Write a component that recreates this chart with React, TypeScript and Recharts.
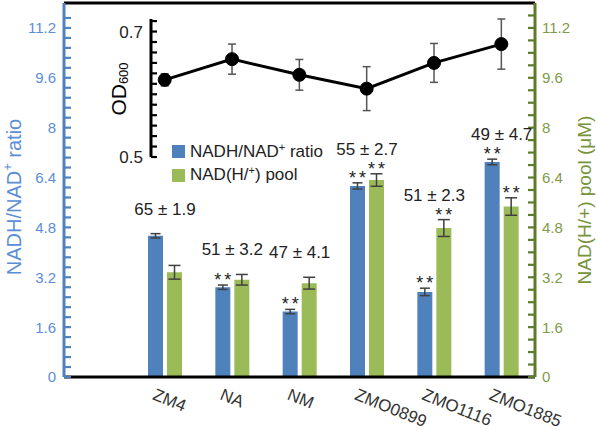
import React from "react";
import {
  ComposedChart,
  LineChart,
  Bar,
  Line,
  XAxis,
  YAxis,
  ErrorBar,
  LabelList,
  Legend,
  ReferenceLine,
} from "recharts";

// strains on the x axis
const strains = ["ZM4", "NA", "NM", "ZMO0899", "ZMO1116", "ZMO1885"];
// NADH/NAD+ ratio (left axis)
const ratio = [4.53, 2.88, 2.1, 6.13, 2.73, 6.9];
const ratioErr = [0.07, 0.07, 0.07, 0.1, 0.12, 0.09];
// NAD(H/+) pool, µM (right axis)
const pool = [3.36, 3.12, 3.01, 6.32, 4.78, 5.47];
const poolErr = [0.22, 0.17, 0.19, 0.2, 0.27, 0.28];
// ** markers
const ratioSig = [false, true, true, true, true, true];
const poolSig = [false, false, false, true, true, true];
// text above each group
const growth = ["65 ± 1.9", "51 ± 3.2", "47 ± 4.1", "55 ± 2.7", "51 ± 2.3", "49 ± 4.7"];
// inset OD600
const od600 = [0.623, 0.656, 0.631, 0.609, 0.65, 0.68];
const od600Err = [0.0096, 0.024, 0.0245, 0.035, 0.031, 0.04];

const majorTicks = [0, 1.6, 3.2, 4.8, 6.4, 8, 9.6, 11.2];
const majorLabels = ["0", "1.6", "3.2", "4.8", "6.4", "8", "9.6", "11.2"];
const odMajorTicks = [0.5, 0.7];
const odMajorLabels = ["0.5", "0.7"];

const leftTicks = Array.from({ length: 37 }, (_, k) => Math.round(k * 32) / 100);
const rightTicks = Array.from({ length: 30 }, (_, k) => Math.round(k * 40) / 100);
const odTicks = Array.from({ length: 14 }, (_, k) => 0.5 + (k * 0.2) / 12);

const BLUE = "#4F81BD";
const GREEN = "#9BBB59";
const OLIVE = "#5E7B2A";
const FONT = "'Liberation Sans', Arial, sans-serif";

const data = strains.map((name, i) => ({
  name,
  idx: i,
  ratio: ratio[i],
  ratioErr: ratioErr[i],
  pool: pool[i],
  poolErr: poolErr[i],
  od: od600[i],
  odErr: od600Err[i],
}));

// label + inward tick mark (tickSize is 0, so x + margin is the axis line)
function YTick(props: any) {
  const { x, y, payload, side, majors, labels, color, fontSize, tickColor, margin, len } = props;
  const i = majors.findIndex((m: number) => Math.abs(m - payload.value) < 1e-6);
  const dir = side === "left" ? 1 : -1;
  const axisX = x + dir * margin;
  return (
    <g>
      <line x1={axisX} x2={axisX + dir * len} y1={y} y2={y} stroke={tickColor} strokeWidth={2.2} />
      {i >= 0 && (
        <text
          x={x}
          y={y}
          dy="0.36em"
          textAnchor={side === "left" ? "end" : "start"}
          fill={color}
          fontSize={fontSize}
        >
          {labels[i]}
        </text>
      )}
    </g>
  );
}

function XTick(props: any) {
  const { x, y, payload } = props;
  const tx = x - 13;
  const ty = y + 12;
  return (
    <text x={tx} y={ty} transform={`rotate(22 ${tx} ${ty})`} fontSize={17} fill="#333">
      {payload.value}
    </text>
  );
}

const boxOf = (props: any) => props.viewBox ?? props;

function renderRatioStars(props: any) {
  const { x, y, width, height } = boxOf(props);
  const i = strains.indexOf(props.value);
  if (i < 0 || !ratioSig[i] || !height) return null;
  const ppu = height / ratio[i];
  const cap = y - ratioErr[i] * ppu;
  return (
    <text x={x + width / 2 + 1.5} y={cap + 1} textAnchor="middle" fontSize={18} letterSpacing={3} fill="#222">
      **
    </text>
  );
}

function renderPoolLabels(props: any) {
  const { x, y, width, height } = boxOf(props);
  const i = strains.indexOf(props.value);
  if (i < 0 || !height) return null;
  const ppu = height / pool[i];
  const base = y + height;
  const greenCap = base - (pool[i] + poolErr[i]) * ppu;
  const blueCap = base - (ratio[i] + ratioErr[i]) * ppu;
  const top = Math.min(greenCap, blueCap);
  return (
    <g>
      {poolSig[i] && (
        <text x={x + width / 2 + 1.5} y={greenCap + 1} textAnchor="middle" fontSize={18} letterSpacing={3} fill="#222">
          **
        </text>
      )}
      <text x={x - 2} y={top - 19} textAnchor="middle" fontSize={17} fill="#222">
        {growth[i]}
      </text>
    </g>
  );
}

function LeftLabel() {
  const cx = 14;
  const cy = 197;
  return (
    <text x={cx} y={cy} transform={`rotate(-90 ${cx} ${cy})`} textAnchor="middle" dominantBaseline="central" fill="#5B8ED6" fontSize={20}>
      NADH/NAD<tspan dy={-7} fontSize={13}>+</tspan>
      <tspan dy={7}> ratio</tspan>
    </text>
  );
}

function RightLabel() {
  const cx = 584;
  const cy = 200;
  return (
    <text x={cx} y={cy} transform={`rotate(-90 ${cx} ${cy})`} textAnchor="middle" dominantBaseline="central" fill="#77933C" fontSize={19}>
      NAD(H/+) pool (μM)
    </text>
  );
}

function OdLabel() {
  const cx = 118;
  const cy = 89;
  return (
    <text x={cx} y={cy} transform={`rotate(-90 ${cx} ${cy})`} textAnchor="middle" dominantBaseline="central" fill="#000" fontSize={21}>
      OD<tspan dy={5} fontSize={13}>600</tspan>
    </text>
  );
}

const legendOrder = ["ratio", "pool"];
const legendNames: Record<string, React.ReactNode> = {
  ratio: (
    <>
      NADH/NAD<span style={{ fontSize: 11, position: "relative", top: -6 }}>+</span> ratio
    </>
  ),
  pool: (
    <>
      NAD(H/<span style={{ fontSize: 11, position: "relative", top: -6 }}>+</span>) pool
    </>
  ),
};

function LegendBox(props: any) {
  const items = [...(props.payload ?? [])].sort(
    (a: any, b: any) => legendOrder.indexOf(a.dataKey) - legendOrder.indexOf(b.dataKey)
  );
  return (
    <div style={{ fontSize: 17, color: "#222", fontFamily: FONT }}>
      {items.map((it: any) => (
        <div key={it.dataKey} style={{ display: "flex", alignItems: "center", height: 23.5 }}>
          <span style={{ width: 13, height: 13, background: it.color, marginRight: 5, display: "inline-block" }} />
          <span>{legendNames[it.dataKey] ?? it.value}</span>
        </div>
      ))}
    </div>
  );
}

export default function App() {
  return (
    <div style={{ position: "absolute", left: 0, top: 0, width: 598, height: 430, fontFamily: FONT, background: "#fff" }}>
      <ComposedChart width={598} height={430} data={data} margin={{ top: 3, right: 0, bottom: 0, left: 0 }} barGap={4}>
        <XAxis
          dataKey="name"
          padding={{ left: 67, right: 0 }}
          height={53}
          axisLine={{ stroke: "#000", strokeWidth: 3 }}
          tickLine={false}
          tickSize={0}
          tickMargin={10}
          interval={0}
          tick={(p: any) => <XTick {...p} />}
        />
        <YAxis
          yAxisId="left"
          domain={[0, 12]}
          ticks={leftTicks}
          interval={0}
          width={64}
          axisLine={{ stroke: BLUE, strokeWidth: 3 }}
          tickLine={false}
          tickSize={0}
          tickMargin={8}
          tick={(p: any) => (
            <YTick {...p} side="left" majors={majorTicks} labels={majorLabels} color="#5B8ED6" fontSize={15} tickColor={BLUE} margin={8} len={7} />
          )}
          label={{ content: () => <LeftLabel /> }}
        />
        <YAxis
          yAxisId="right"
          orientation="right"
          domain={[0, 12]}
          ticks={rightTicks}
          interval={0}
          width={63}
          axisLine={{ stroke: OLIVE, strokeWidth: 3 }}
          tickLine={false}
          tickSize={0}
          tickMargin={7}
          tick={(p: any) => (
            <YTick {...p} side="right" majors={majorTicks} labels={majorLabels} color="#7F9A48" fontSize={15} tickColor={OLIVE} margin={7} len={7} />
          )}
          label={{ content: () => <RightLabel /> }}
        />
        <ReferenceLine yAxisId="left" y={12} stroke="#000" strokeWidth={3} />
        <Legend
          layout="vertical"
          align="center"
          verticalAlign="middle"
          wrapperStyle={{ left: 172, top: 140, width: "auto" }}
          content={(p: any) => <LegendBox {...p} />}
        />
        <Bar yAxisId="left" dataKey="ratio" name="NADH/NAD+ ratio" fill={BLUE} barSize={15} isAnimationActive={false}>
          <ErrorBar dataKey="ratioErr" width={5} stroke="#404040" strokeWidth={1.5} direction="y" />
          <LabelList dataKey="name" content={renderRatioStars} />
        </Bar>
        <Bar yAxisId="right" dataKey="pool" name="NAD(H/+) pool" fill={GREEN} barSize={15} isAnimationActive={false}>
          <ErrorBar dataKey="poolErr" width={6} stroke="#404040" strokeWidth={1.5} direction="y" />
          <LabelList dataKey="name" content={renderPoolLabels} />
        </Bar>
      </ComposedChart>

      <div style={{ position: "absolute", left: 0, top: 0, pointerEvents: "none" }}>
        <LineChart width={598} height={430} data={data} margin={{ top: 19, right: 63, bottom: 273, left: 0 }}>
          <XAxis type="number" dataKey="idx" domain={[-0.2035, 5.5]} hide />
          <YAxis
            domain={[0.5, 0.72]}
            ticks={odTicks}
            interval={0}
            width={151}
            axisLine={{ stroke: "#000", strokeWidth: 3 }}
            tickLine={false}
            tickSize={0}
            tickMargin={8}
            tick={(p: any) => (
              <YTick {...p} side="left" majors={odMajorTicks} labels={odMajorLabels} color="#222" fontSize={17} tickColor="#000" margin={8} len={6} />
            )}
            label={{ content: () => <OdLabel /> }}
          />
          <Line
            dataKey="od"
            stroke="#000"
            strokeWidth={3}
            dot={{ r: 6.5, fill: "#000", stroke: "#000", strokeWidth: 1 }}
            isAnimationActive={false}
          >
            <ErrorBar dataKey="odErr" width={4} stroke="#555" strokeWidth={1.5} direction="y" />
          </Line>
        </LineChart>
      </div>
    </div>
  );
}
